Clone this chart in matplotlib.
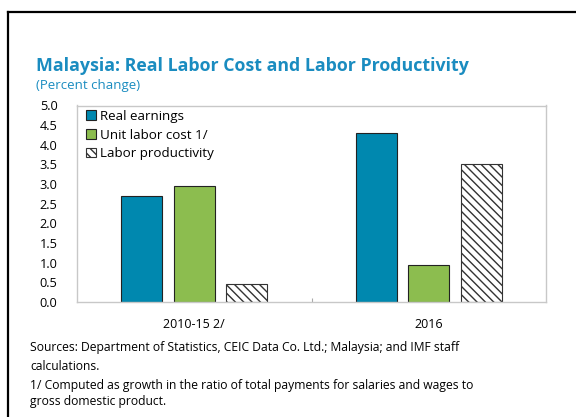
import numpy as np
import matplotlib
matplotlib.use('Agg')
import matplotlib.pyplot as plt
from matplotlib.lines import Line2D

plt.rcParams['font.family'] = ['Open Sans', 'DejaVu Sans']
plt.rcParams['hatch.linewidth'] = 1.0

categories = ['2010-15 2/', '2016']
real_earnings = [2.70, 4.31]
unit_labor_cost = [2.94, 0.93]
labor_productivity = [0.47, 3.51]

BLUE = '#0088AF'
GREEN = '#8CBD4F'
TITLE_BLUE = '#1A8CC0'

fig = plt.figure(figsize=(5.76, 4.17), dpi=100)
ax = fig.add_axes([77 / 576, 1 - 302 / 417, (546 - 77) / 576, (302 - 105.5) / 417])

x = np.arange(len(categories))
w = 0.175
step = 0.224
ax.bar(x - step, real_earnings, w, color=BLUE, edgecolor='#222222', linewidth=0.8,
       label='Real earnings')
ax.bar(x, unit_labor_cost, w, color=GREEN, edgecolor='#222222', linewidth=0.8,
       label='Unit labor cost 1/')
ax.bar(x + step, labor_productivity, w, color='white', edgecolor='#333333', linewidth=0.8,
       hatch='\\\\\\\\', label='Labor productivity')

ax.set_xlim(-0.5, 1.5)
ax.set_ylim(0, 5)
ax.set_yticks(np.arange(0, 5.01, 0.5))
ax.set_yticklabels([f'{v:.1f}' for v in np.arange(0, 5.01, 0.5)], fontsize=9.2)
ax.tick_params(axis='y', length=0, pad=14)
ax.set_xticks([0.5])
ax.set_xticklabels([''])
ax.tick_params(axis='x', direction='in', length=3, color='#aaaaaa')
for s in ax.spines.values():
    s.set_color('#c8c8c8')
    s.set_linewidth(1.0)
for i, c in enumerate(categories):
    ax.text(x[i], -0.56, c, ha='center', va='center', fontsize=9,
            transform=ax.transData)

leg = ax.legend(loc='upper left', bbox_to_anchor=(0.0, 1.025), frameon=False,
                fontsize=9.6, handlelength=0.75, handleheight=0.75,
                handletextpad=0.3, labelspacing=0.42, borderaxespad=0.3)

fig.text(36 / 576, 1 - 66 / 417, 'Malaysia: Real Labor Cost and Labor Productivity',
         fontsize=12.8, fontweight='bold', color=TITLE_BLUE, va='center')
fig.text(36 / 576, 1 - 86 / 417, '(Percent change)', fontsize=9.5,
         color=TITLE_BLUE, va='center')

notes = [
    (348, 'Sources: Department of Statistics, CEIC Data Co. Ltd.; Malaysia; and IMF staff'),
    (366, 'calculations.'),
    (385, '1/ Computed as growth in the ratio of total payments for salaries and wages to'),
    (401, 'gross domestic product.'),
]
for y, t in notes:
    fig.text(30 / 576, 1 - y / 417, t, fontsize=8.7, va='center')

# outer frame, open on the right and bottom
fig.add_artist(Line2D([8 / 576, 8 / 576], [0, 1 - 12 / 417], transform=fig.transFigure,
                      color='black', linewidth=1.6))
fig.add_artist(Line2D([8 / 576, 1], [1 - 12 / 417, 1 - 12 / 417], transform=fig.transFigure,
                      color='black', linewidth=1.6))

fig.savefig('out.png', dpi=100)
